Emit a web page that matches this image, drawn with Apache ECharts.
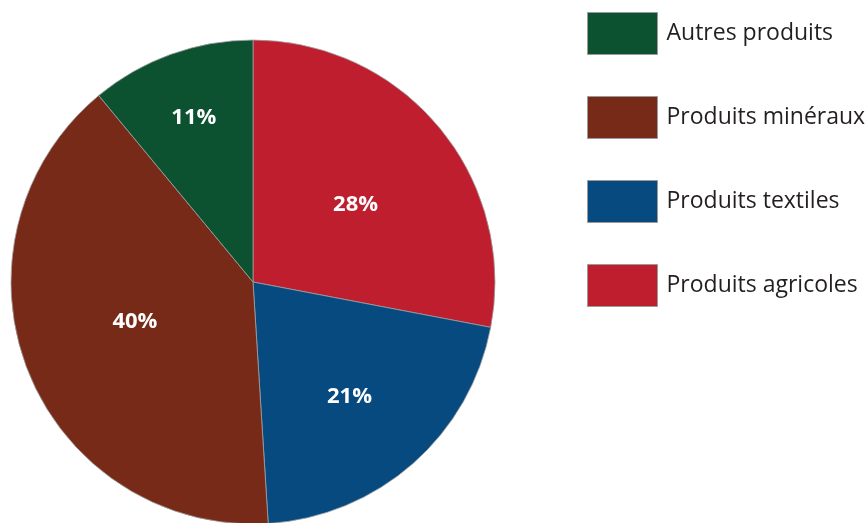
<!DOCTYPE html>
<html><head><meta charset="utf-8">
<script src="https://cdn.jsdelivr.net/npm/echarts@6/dist/echarts.min.js"></script>
<style>html,body{margin:0;padding:0;background:#fff}#c{width:868px;height:523px}</style>
</head><body><div id="c"></div>
<script>
// Data (clockwise from 12 o'clock)
const categories = ['Produits agricoles', 'Produits textiles', 'Produits minéraux', 'Autres produits'];
const values = [28, 21, 40, 11];
const legendOrder = ['Autres produits', 'Produits minéraux', 'Produits textiles', 'Produits agricoles'];
// Styles
const colors = ['#be1e2e', '#064a80', '#772a17', '#0c5230'];
const labelRadiusFrac = [0.530, 0.619, 0.515, 0.722];
const labelAngleShiftDeg = [2.7, 1.3, 2.9, 0];

const CX = 253, CY = 282, R = 242;
const total = values.reduce((a, b) => a + b, 0);
const mids = [];
let acc = 0;
values.forEach(v => { mids.push((acc + v / 2) / total * 2 * Math.PI); acc += v; });

const chart = echarts.init(document.getElementById('c'));
chart.setOption({
  animation: false,
  legend: {
    orient: 'vertical',
    left: 582, top: 7,
    itemWidth: 70, itemHeight: 42, itemGap: 41,
    icon: 'rect',
    data: legendOrder,
    textStyle: { fontFamily: 'Open Sans', fontSize: 23, color: '#231f20', padding: [0, 0, 0, 4] },
    itemStyle: { borderColor: '#9a9a9a', borderWidth: 1 }
  },
  series: [{
    type: 'pie',
    center: [CX, CY],
    radius: R,
    startAngle: 90,
    clockwise: true,
    data: categories.map((n, i) => ({ name: n, value: values[i], itemStyle: { color: colors[i] } })),
    itemStyle: { borderColor: '#a0a0a0', borderWidth: 0.8 },
    label: {
      show: true, position: 'inside',
      formatter: p => p.value + '%',
      color: '#fff', fontFamily: 'Open Sans', fontWeight: 'bold', fontSize: 22
    },
    labelLine: { show: false },
    labelLayout: p => {
      const i = p.dataIndex;
      const r = labelRadiusFrac[i] * R;
      const a = mids[i] + labelAngleShiftDeg[i] * Math.PI / 180;
      return { x: CX + r * Math.sin(a), y: CY - r * Math.cos(a), align: 'center', verticalAlign: 'middle' };
    },
    emphasis: { disabled: true }
  }]
});
</script></body></html>
